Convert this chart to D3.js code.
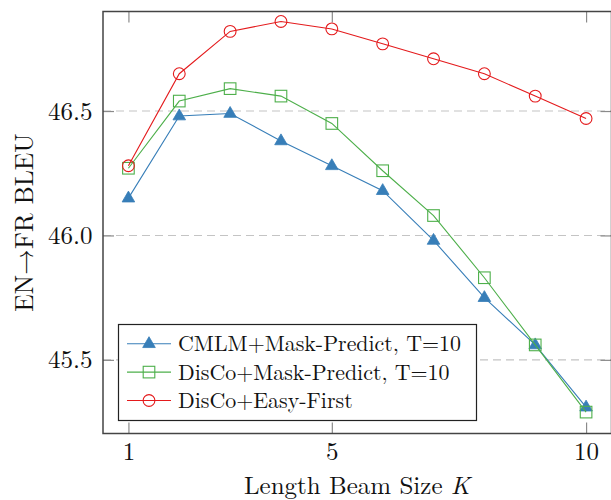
<!DOCTYPE html>
<html><head><meta charset="utf-8">
<script src="https://cdn.jsdelivr.net/npm/d3@7"></script>
<style>body{margin:0;background:#fff}</style>
</head><body><svg id="c" width="611" height="500"></svg>
<script>
const ks = [1,2,3,4,5,6,7,8,9,10];
const cmlm = [46.15,46.48,46.49,46.38,46.28,46.18,45.98,45.75,45.56,45.31];
const discoMP = [46.27,46.54,46.59,46.56,46.45,46.26,46.08,45.83,45.56,45.29];
const discoEF = [46.28,46.65,46.82,46.86,46.83,46.77,46.71,46.65,46.56,46.47];
const seriesNames = ["CMLM+Mask-Predict, T=10","DisCo+Mask-Predict, T=10","DisCo+Easy-First"];
const xTicks = [1,5,10];
const yTicks = [45.5,46.0,46.5];

const FONT = "'Latin Modern Roman'";
const series = [
  {name:seriesNames[0], vals:cmlm, color:"#377eb8", mark:"tri"},
  {name:seriesNames[1], vals:discoMP, color:"#4daf4a", mark:"sq"},
  {name:seriesNames[2], vals:discoEF, color:"#e41a1c", mark:"circ"}
];
const svg = d3.select("#c");
const L=103, R=611.5, T=11.5, B=433.5;
const x = d3.scaleLinear().domain([0.5,10.5]).range([L,R]);
const y = d3.scaleLinear().domain([45.204,46.9]).range([B,T]);

// grid
svg.append("g").selectAll("line").data(yTicks).join("line")
  .attr("x1",L).attr("x2",R).attr("y1",d=>y(d)).attr("y2",d=>y(d))
  .attr("stroke","#c4c4c4").attr("stroke-width",1.1).attr("stroke-dasharray","8,5");

// axes ticks (inward)
const tk = 11;
const gx = svg.append("g").attr("transform",`translate(0,${B})`)
  .call(d3.axisBottom(x).tickValues(xTicks).tickSizeInner(-tk).tickSizeOuter(0).tickFormat(d3.format("d")));
const gxt = svg.append("g").attr("transform",`translate(0,${T})`)
  .call(d3.axisTop(x).tickValues(xTicks).tickSizeInner(-tk).tickSizeOuter(0).tickFormat(""));
const gy = svg.append("g").attr("transform",`translate(${L},0)`)
  .call(d3.axisLeft(y).tickValues(yTicks).tickSizeInner(-tk).tickSizeOuter(0).tickFormat(d3.format(".1f")));
const gyr = svg.append("g").attr("transform",`translate(${R},0)`)
  .call(d3.axisRight(y).tickValues(yTicks).tickSizeInner(-tk).tickSizeOuter(0).tickFormat(""));
[gx,gxt,gy,gyr].forEach(g=>{
  g.attr("font-family",null).attr("font-size",null);
  g.select(".domain").remove();
  g.selectAll(".tick line").attr("stroke","#8a8a8a").attr("stroke-width",1.2);
  g.selectAll("text").style("font-family",FONT).style("font-size","25px").attr("fill","#111");
});
gy.selectAll(".tick text").attr("x",-10.5);
gx.selectAll(".tick text").attr("y",26.5).attr("dy",0);
// frame
svg.append("rect").attr("x",L).attr("y",T).attr("width",R-L).attr("height",B-T)
  .attr("fill","none").attr("stroke","#444").attr("stroke-width",1.5);

const line = d3.line().x((d,i)=>x(ks[i])).y(d=>y(d));
function marker(g,type,color,cx,cy){
  if(type==="tri"){
    const s=7;
    g.append("path").attr("d",`M${cx},${cy-s}L${cx+s*0.9},${cy+s*0.55}L${cx-s*0.9},${cy+s*0.55}Z`)
      .attr("fill",color).attr("stroke",color).attr("stroke-width",0.8);
  } else if(type==="sq"){
    g.append("rect").attr("x",cx-5.8).attr("y",cy-5.8).attr("width",11.6).attr("height",11.6)
      .attr("fill","none").attr("stroke",color).attr("stroke-width",1.1);
  } else {
    g.append("circle").attr("cx",cx).attr("cy",cy).attr("r",5.9)
      .attr("fill","none").attr("stroke",color).attr("stroke-width",1.1);
  }
}
series.forEach(s=>{
  const g = svg.append("g");
  g.append("path").datum(s.vals).attr("d",line).attr("fill","none").attr("stroke",s.color).attr("stroke-width",1.1);
  s.vals.forEach((v,i)=>marker(g,s.mark,s.color,x(ks[i]),y(v)));
});

// legend
const lg = svg.append("g");
lg.append("rect").attr("x",118.5).attr("y",324.5).attr("width",358).attr("height",96)
  .attr("fill","#fff").attr("stroke","#222").attr("stroke-width",1.2);
series.forEach((s,i)=>{
  const cy = 343.7 + i*28.4;
  lg.append("line").attr("x1",127).attr("x2",171).attr("y1",cy).attr("y2",cy).attr("stroke",s.color).attr("stroke-width",1.1);
  marker(lg,s.mark,s.color,149,cy);
  lg.append("text").attr("x",178).attr("y",cy+7.5).style("font-family",FONT).style("font-size","21.9px").attr("fill","#111").text(s.name);
});

// axis labels
const xl = svg.append("text").attr("x",357).attr("y",494).attr("text-anchor","middle")
  .style("font-family",FONT).style("font-size","25px").attr("fill","#111");
xl.append("tspan").text("Length Beam Size ");
xl.append("tspan").style("font-style","italic").text("K");
svg.append("text").attr("transform","translate(33,222.5) rotate(-90)").attr("text-anchor","middle")
  .style("font-family",FONT).style("font-size","25.8px").attr("fill","#111").text("EN→FR BLEU");
</script></body></html>
